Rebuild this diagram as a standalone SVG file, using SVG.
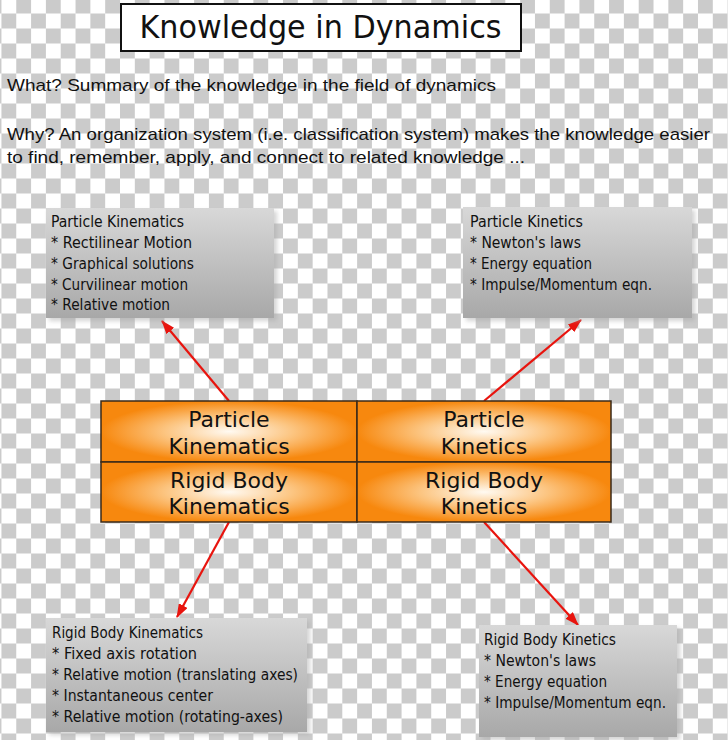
<svg xmlns="http://www.w3.org/2000/svg" width="728" height="740" viewBox="0 0 728 740">
<defs>
<pattern id="checker" x="1.44" y="-1.5" width="29.64" height="30" patternUnits="userSpaceOnUse">
<rect width="29.64" height="30" fill="#ffffff"/>
<rect x="14.82" y="0" width="14.82" height="15" fill="#cbcbcb"/>
<rect x="0" y="15" width="14.82" height="15" fill="#cbcbcb"/>
</pattern>
<linearGradient id="grayGrad" x1="0" y1="0" x2="0" y2="1">
<stop offset="0" stop-color="#d8d8d8"/>
<stop offset="1" stop-color="#a8a8a8"/>
</linearGradient>
<radialGradient id="orangeGrad" cx="0.5" cy="0.5" r="0.5">
<stop offset="0" stop-color="#fffaf2"/>
<stop offset="0.5" stop-color="#fcc581"/>
<stop offset="1" stop-color="#f7880e"/>
</radialGradient>
<filter id="shadow" x="-10%" y="-10%" width="125%" height="125%">
<feGaussianBlur in="SourceAlpha" stdDeviation="2"/>
<feOffset dx="3" dy="3" result="b"/>
<feFlood flood-color="#aaaaaa" flood-opacity="0.5"/>
<feComposite in2="b" operator="in"/>
<feMerge><feMergeNode/><feMergeNode in="SourceGraphic"/></feMerge>
</filter>
<marker id="arrow" viewBox="0 0 14 10" refX="13" refY="5" markerWidth="14" markerHeight="10" markerUnits="userSpaceOnUse" orient="auto">
<path d="M0,0 L14,5 L0,10 Z" fill="#e8140e"/>
</marker>
<style>
.hdr { font-family: "Liberation Sans", "DejaVu Sans", sans-serif; font-size: 17px; fill: #111; }
.note { font-family: "DejaVu Sans", "Liberation Sans", sans-serif; font-size: 15px; fill: #111; }
.cell { font-family: "DejaVu Sans", "Liberation Sans", sans-serif; font-size: 22px; fill: #111; text-anchor: middle; }
.gbox { fill: url(#grayGrad); filter: url(#shadow); }
.ocell { fill: url(#orangeGrad); stroke: #3a2a1a; stroke-width: 1.5; }
.conn { stroke: #e8140e; stroke-width: 2.2; fill: none; marker-end: url(#arrow); }
</style>
</defs>
<rect x="0" y="0" width="728" height="740" fill="url(#checker)"/>

<g id="title">
<rect x="121" y="4" width="400" height="47" fill="#ffffff" stroke="#111" stroke-width="2"/>
<text x="139.5" y="38" font-family="DejaVu Sans, Liberation Sans, sans-serif" font-size="32" fill="#111" textLength="362" lengthAdjust="spacingAndGlyphs">Knowledge in Dynamics</text>
</g>

<g id="header-text">
<text class="hdr" x="7" y="90.5" textLength="489" lengthAdjust="spacingAndGlyphs">What? Summary of the knowledge in the field of dynamics</text>
<text class="hdr" x="7" y="140" textLength="703" lengthAdjust="spacingAndGlyphs">Why? An organization system (i.e. classification system) makes the knowledge easier</text>
<text class="hdr" x="7" y="163" textLength="518" lengthAdjust="spacingAndGlyphs">to find, remember, apply, and connect to related knowledge  ...</text>
</g>

<g id="connectors">
<line class="conn" x1="229" y1="401" x2="162" y2="321"/>
<line class="conn" x1="484" y1="401" x2="581" y2="320"/>
<line class="conn" x1="229" y1="522" x2="177" y2="617"/>
<line class="conn" x1="484" y1="522" x2="578" y2="625"/>
</g>

<g id="particle-kinematics-box">
<rect class="gbox" x="46" y="208" width="228" height="110"/>
<text class="note" x="51" y="226.5" textLength="133" lengthAdjust="spacingAndGlyphs">Particle Kinematics</text>
<text class="note" x="51" y="247.5" textLength="141" lengthAdjust="spacingAndGlyphs">* Rectilinear Motion</text>
<text class="note" x="51" y="268.5" textLength="143" lengthAdjust="spacingAndGlyphs">* Graphical solutions</text>
<text class="note" x="51" y="289.5" textLength="137" lengthAdjust="spacingAndGlyphs">* Curvilinear motion</text>
<text class="note" x="51" y="310" textLength="119" lengthAdjust="spacingAndGlyphs">* Relative motion</text>
</g>

<g id="particle-kinetics-box">
<rect class="gbox" x="463" y="207" width="229" height="111"/>
<text class="note" x="470" y="226.5" textLength="113" lengthAdjust="spacingAndGlyphs">Particle Kinetics</text>
<text class="note" x="470" y="247.5" textLength="111" lengthAdjust="spacingAndGlyphs">* Newton's laws</text>
<text class="note" x="470" y="268.5" textLength="122" lengthAdjust="spacingAndGlyphs">* Energy equation</text>
<text class="note" x="470" y="289.5" textLength="182" lengthAdjust="spacingAndGlyphs">* Impulse/Momentum eqn.</text>
</g>

<g id="grid">
<g id="cell-particle-kinematics">
<rect class="ocell" x="101" y="401" width="256" height="61"/>
<text class="cell" x="229" y="427">Particle</text>
<text class="cell" x="229" y="454">Kinematics</text>
</g>
<g id="cell-particle-kinetics">
<rect class="ocell" x="357" y="401" width="254" height="61"/>
<text class="cell" x="484" y="427">Particle</text>
<text class="cell" x="484" y="454">Kinetics</text>
</g>
<g id="cell-rigid-body-kinematics">
<rect class="ocell" x="101" y="462" width="256" height="60"/>
<text class="cell" x="229" y="488">Rigid Body</text>
<text class="cell" x="229" y="514">Kinematics</text>
</g>
<g id="cell-rigid-body-kinetics">
<rect class="ocell" x="357" y="462" width="254" height="60"/>
<text class="cell" x="484" y="488">Rigid Body</text>
<text class="cell" x="484" y="514">Kinetics</text>
</g>
</g>

<g id="rigid-body-kinematics-box">
<rect class="gbox" x="46" y="618" width="261" height="114"/>
<text class="note" x="52" y="638" textLength="151" lengthAdjust="spacingAndGlyphs">Rigid Body Kinematics</text>
<text class="note" x="52" y="659" textLength="145" lengthAdjust="spacingAndGlyphs">* Fixed axis rotation</text>
<text class="note" x="52" y="680" textLength="246" lengthAdjust="spacingAndGlyphs">* Relative motion (translating axes)</text>
<text class="note" x="52" y="701" textLength="161" lengthAdjust="spacingAndGlyphs">* Instantaneous center</text>
<text class="note" x="52" y="722" textLength="231" lengthAdjust="spacingAndGlyphs">* Relative motion (rotating-axes)</text>
</g>

<g id="rigid-body-kinetics-box">
<rect class="gbox" x="479" y="625" width="198" height="112"/>
<text class="note" x="484" y="644.5" textLength="132" lengthAdjust="spacingAndGlyphs">Rigid Body Kinetics</text>
<text class="note" x="484" y="665.5" textLength="112" lengthAdjust="spacingAndGlyphs">* Newton's laws</text>
<text class="note" x="484" y="687" textLength="123" lengthAdjust="spacingAndGlyphs">* Energy equation</text>
<text class="note" x="484" y="708" textLength="182" lengthAdjust="spacingAndGlyphs">* Impulse/Momentum eqn.</text>
</g>
</svg>
